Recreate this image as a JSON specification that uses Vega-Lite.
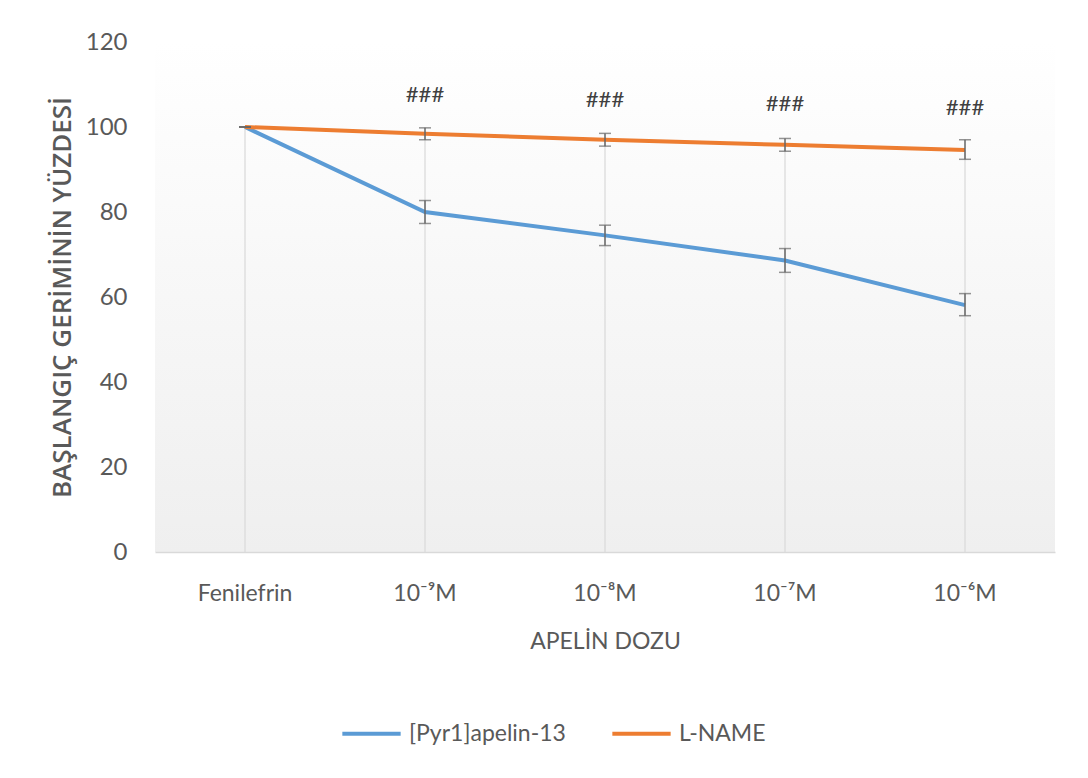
{
  "$schema": "https://vega.github.io/schema/vega-lite/v6.json",
  "autosize": "none",
  "width": 900,
  "height": 510,
  "padding": {"left": 155, "top": 42, "right": 33, "bottom": 226},
  "background": "#ffffff",
  "config": {
    "view": {"stroke": null, "fill": {"gradient": "linear", "x1": 0, "y1": 0, "x2": 0, "y2": 1, "stops": [{"offset": 0, "color": "#ffffff"}, {"offset": 1, "color": "#efefef"}]}},
    "font": "Lato"
  },
  "datasets": {
    "main": [
      {"dose": "Fenilefrin", "series": "[Pyr1]apelin-13", "value": 100, "lo": 100, "hi": 100},
      {"dose": "10⁻⁹M", "series": "[Pyr1]apelin-13", "value": 80, "lo": 77.3, "hi": 82.7},
      {"dose": "10⁻⁸M", "series": "[Pyr1]apelin-13", "value": 74.5, "lo": 72.1, "hi": 76.9},
      {"dose": "10⁻⁷M", "series": "[Pyr1]apelin-13", "value": 68.6, "lo": 65.8, "hi": 71.4},
      {"dose": "10⁻⁶M", "series": "[Pyr1]apelin-13", "value": 58.1, "lo": 55.6, "hi": 60.8},
      {"dose": "Fenilefrin", "series": "L-NAME", "value": 100, "lo": 100, "hi": 100},
      {"dose": "10⁻⁹M", "series": "L-NAME", "value": 98.4, "lo": 97.0, "hi": 99.8},
      {"dose": "10⁻⁸M", "series": "L-NAME", "value": 97.0, "lo": 95.5, "hi": 98.5},
      {"dose": "10⁻⁷M", "series": "L-NAME", "value": 95.8, "lo": 94.3, "hi": 97.3},
      {"dose": "10⁻⁶M", "series": "L-NAME", "value": 94.6, "lo": 92.4, "hi": 97.0}
    ],
    "marks": [
      {"dose": "10⁻⁹M", "pos": 107.5, "label": "###"},
      {"dose": "10⁻⁸M", "pos": 106.4, "label": "###"},
      {"dose": "10⁻⁷M", "pos": 105.4, "label": "###"},
      {"dose": "10⁻⁶M", "pos": 104.5, "label": "###"}
    ]
  },
  "data": {"name": "main"},
  "encoding": {
    "x": {
      "field": "dose", "type": "nominal",
      "sort": ["Fenilefrin", "10⁻⁹M", "10⁻⁸M", "10⁻⁷M", "10⁻⁶M"],
      "scale": {"type": "band", "paddingInner": 0, "paddingOuter": 0},
      "axis": {
        "title": "APELİN DOZU", "labelAngle": 0, "labelFontSize": 23, "labelColor": "#595959",
        "labelPadding": 30, "ticks": false, "domainColor": "#d9d9d9", "domainWidth": 1.5, "grid": false,
        "titleFontSize": 23, "titleFontWeight": "normal", "titleColor": "#595959", "titlePadding": 25
      }
    }
  },
  "layer": [
    {
      "transform": [{"filter": "datum.series === 'L-NAME'"}],
      "mark": {"type": "rule", "color": "#d9d9d9", "strokeWidth": 1.2},
      "encoding": {
        "y": {"field": "value", "type": "quantitative"},
        "y2": {"datum": 0}
      }
    },
    {
      "mark": {"type": "line", "strokeWidth": 4},
      "encoding": {
        "y": {
          "field": "value", "type": "quantitative",
          "scale": {"domain": [0, 120]},
          "axis": {
            "title": "BAŞLANGIÇ GERİMİNİN YÜZDESİ", "values": [0, 20, 40, 60, 80, 100, 120],
            "grid": false, "domain": false, "ticks": false, "labelFontSize": 24, "labelColor": "#595959",
            "labelPadding": 28, "titleFont": "Open Sans", "titleFontSize": 26, "titleFontWeight": 600,
            "titleColor": "#595959", "titlePadding": 10
          }
        },
        "color": {
          "field": "series", "type": "nominal",
          "scale": {"domain": ["[Pyr1]apelin-13", "L-NAME"], "range": ["#5b9bd5", "#ed7d31"]},
          "legend": {
            "title": null, "orient": "none", "direction": "horizontal", "legendX": 185, "legendY": 660,
            "symbolType": "stroke", "symbolSize": 3400, "symbolStrokeWidth": 4, "labelFontSize": 23,
            "labelColor": "#595959", "columnPadding": 38, "labelOffset": 6
          }
        }
      }
    },
    {
      "mark": {"type": "rule", "color": "#666666", "strokeWidth": 1.5},
      "encoding": {
        "y": {"field": "lo", "type": "quantitative"},
        "y2": {"field": "hi"}
      }
    },
    {
      "mark": {"type": "tick", "color": "#666666", "thickness": 1.5, "size": 12},
      "encoding": {"y": {"field": "lo", "type": "quantitative"}}
    },
    {
      "mark": {"type": "tick", "color": "#666666", "thickness": 1.5, "size": 12},
      "encoding": {"y": {"field": "hi", "type": "quantitative"}}
    },
    {
      "data": {"name": "marks"},
      "mark": {"type": "text", "fontSize": 22, "color": "#404040", "baseline": "middle"},
      "encoding": {
        "y": {"field": "pos", "type": "quantitative"},
        "text": {"field": "label"}
      }
    }
  ]
}
